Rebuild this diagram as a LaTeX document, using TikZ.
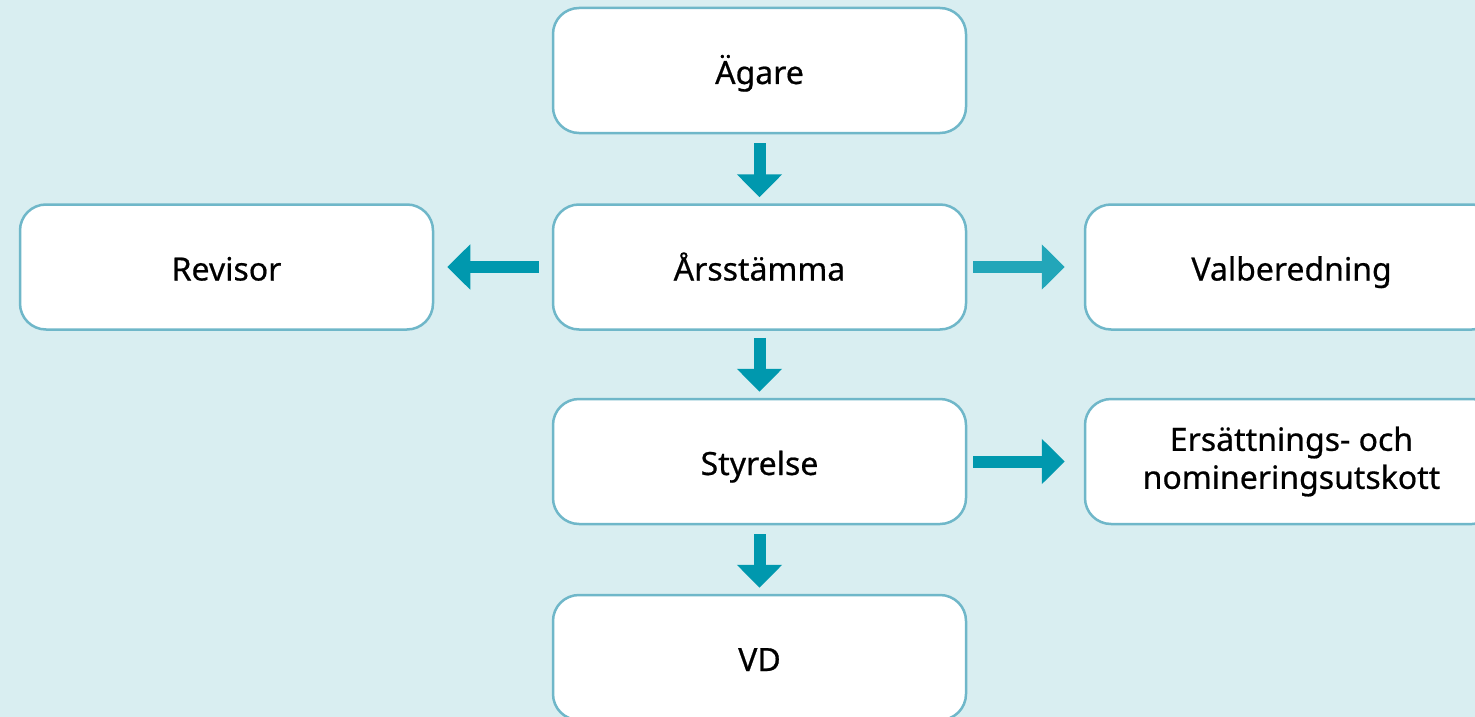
\documentclass[tikz,border=0pt]{standalone}
\usepackage{fontspec}
\setmainfont{Noto Sans}
\newfontfamily\boxfont{Noto Sans}[FakeBold=0.6]
\usetikzlibrary{arrows.meta}
\definecolor{bgcol}{HTML}{D9EEF1}
\definecolor{boxline}{HTML}{6FB7C9}
\definecolor{arrcol}{HTML}{0098AE}
\definecolor{arrlight}{HTML}{22A6B9}
\tikzset{box/.style={draw=boxline, line width=2.5pt, fill=white, rounded corners=26pt,
    minimum width=413pt, minimum height=125pt, align=center,
    font=\boxfont\fontsize{32}{38}\selectfont}}
\tikzset{onebox/.style={box, text height=30pt, text depth=3pt}}
\tikzset{arr/.style={draw=arrcol, line width=12pt, -{Triangle[width=44pt,length=23pt]}}}

\begin{document}
\begin{tikzpicture}[x=1pt,y=-1pt]
        \fill[bgcol] (0,0) rectangle (1475,717);
        \useasboundingbox (0,0) rectangle (1475,717);
        \clip (0,0) rectangle (1475,717);
        \node[onebox] (agare) at (759.5,70.5) {Ägare};
        \node[onebox] (stamma) at (759.5,267) {Årsstämma};
        \node[onebox] (revisor) at (226.5,267) {Revisor};
        \node[onebox] (valb) at (1291.5,267) {Valberedning};
        \node[onebox] (styrelse) at (759.5,461.5) {Styrelse};
        \node[box] (utskott) at (1291.5,461.5) {Ersättnings- och\\nomineringsutskott};
        \node[onebox] (vd) at (759.5,657.5) {VD};
        \draw[arr, shorten <=9pt, shorten >=6pt] (agare) -- (stamma);
        \draw[arr, shorten <=13pt, shorten >=13pt] (stamma) -- (revisor);
        \draw[arr, draw=arrlight, shorten <=6pt, shorten >=19pt] (stamma) -- (valb);
        \draw[arr, shorten <=7pt, shorten >=6pt] (stamma) -- (styrelse);
        \draw[arr, shorten <=6pt, shorten >=19pt] (styrelse) -- (utskott);
        \draw[arr, shorten <=9pt, shorten >=6pt] (styrelse) -- (vd);
      \end{tikzpicture}
\end{document}
